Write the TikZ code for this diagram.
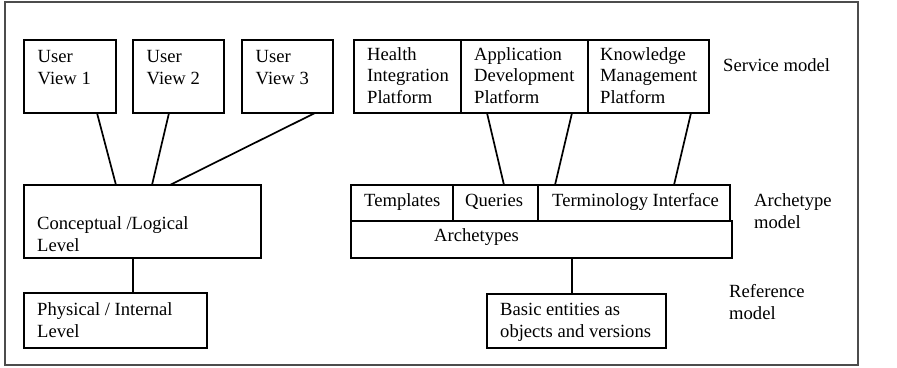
\documentclass[tikz,border=0pt]{standalone}
\usepackage{fontspec}
\setmainfont{Liberation Serif}
\begin{document}
\begin{tikzpicture}[x=1pt,y=-1pt,
  box/.style={draw, line width=1.8pt, inner sep=0pt, outer sep=0pt, anchor=north west},
  txt/.style={inner sep=0pt, anchor=base west, align=left, font=\fontsize{18.6}{21.7}\selectfont},
  link/.style={line width=1.7pt}]
\useasboundingbox (0,0) rectangle (897,367);
\draw[line width=1.2pt, black!70] (5,2) rectangle (858,365);
% left side
\node[box, minimum width=92pt, minimum height=73pt] (uv1) at (24,40) {};
\node[box, minimum width=91pt, minimum height=73pt] (uv2) at (133,40) {};
\node[box, minimum width=91pt, minimum height=73pt] (uv3) at (242,40) {};
\node[box, minimum width=237pt, minimum height=73pt] (cl) at (24,185) {};
\node[box, minimum width=183pt, minimum height=55pt] (pl) at (24,293) {};
\node[txt] (tuv1) at (37.5,84.5) {User\\View 1};
\node[txt] (tuv2) at (146.5,84.5) {User\\View 2};
\node[txt] (tuv3) at (255.5,84.5) {User\\View 3};
\node[txt] (tcl) at (37,251.5) {Conceptual /Logical\\Level};
\node[txt] (tpl) at (37,337.5) {Physical / Internal\\Level};
\draw[link] ([xshift=73pt]uv1.south west) -- ([xshift=92pt]cl.north west);
\draw[link] ([xshift=36pt]uv2.south west) -- ([xshift=128pt]cl.north west);
\draw[link] ([xshift=73pt]uv3.south west) -- ([xshift=146pt]cl.north west);
\draw[link] ([xshift=109pt]cl.south west) -- ([xshift=109pt]pl.north west);
% right side
\node[box, minimum width=107pt, minimum height=73pt] (hip) at (354,40) {};
\node[box, minimum width=127pt, minimum height=73pt] (adp) at (461,40) {};
\node[box, minimum width=121pt, minimum height=73pt] (kmp) at (588,40) {};
\node[txt] (thip) at (367,103.5) {Health\\Integration\\Platform};
\node[txt] (tadp) at (474,103.5) {Application\\Development\\Platform};
\node[txt] (tkmp) at (600,103.5) {Knowledge\\Management\\Platform};
\node[txt] (tsm) at (723,71.5) {Service model};
\node[box, minimum width=102pt, minimum height=36pt] (tpl2) at (351,185) {};
\node[box, minimum width=85pt, minimum height=36pt] (qry) at (453,185) {};
\node[box, minimum width=192pt, minimum height=36pt] (ti) at (538,185) {};
\node[box, minimum width=381pt, minimum height=37pt] (arc) at (351,221) {};
\node[txt] (ttpl) at (364,206.5) {Templates};
\node[txt] (tqry) at (465,206.5) {Queries};
\node[txt] (tti) at (552,206.5) {Terminology Interface};
\node[txt] (tarc) at (434,241) {Archetypes};
\node[txt] (tam) at (754,228) {Archetype\\model};
\node[box, minimum width=179pt, minimum height=54pt] (bas) at (487,294) {};
\node[txt] (tbas) at (500,337.5) {Basic entities as\\objects and versions};
\node[txt] (trm) at (729,319) {Reference\\model};
\draw[link] ([xshift=26pt]adp.south west) -- ([xshift=51pt]qry.north west);
\draw[link] ([xshift=111pt]adp.south west) -- ([xshift=17pt]ti.north west);
\draw[link] ([xshift=103pt]kmp.south west) -- ([xshift=136pt]ti.north west);
\draw[link] ([xshift=221pt]arc.south west) -- ([xshift=85pt]bas.north west);
\end{tikzpicture}
\end{document}
